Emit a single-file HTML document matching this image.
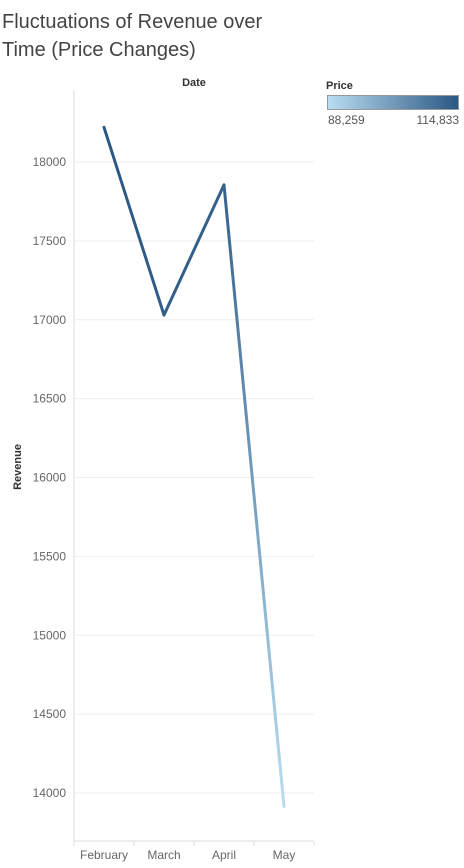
<!DOCTYPE html>
<html><head><meta charset="utf-8"><style>
body{margin:0;background:#fff;font-family:"Liberation Sans",sans-serif;}
</style></head><body>
<svg width="464" height="863" id="chart" style="font-family:'Liberation Sans',sans-serif">
<text x="2" y="28" font-size="20" fill="#444">Fluctuations of Revenue over</text>
<text x="2" y="56" font-size="20" fill="#444">Time (Price Changes)</text>
<text x="194" y="86" font-size="11" font-weight="bold" fill="#333" text-anchor="middle">Date</text>
<text transform="translate(21,467) rotate(-90)" font-size="11" font-weight="bold" fill="#333" text-anchor="middle">Revenue</text>
<text x="326" y="89" font-size="11" font-weight="bold" fill="#333">Price</text>
<defs>
<linearGradient id="lg" x1="0" x2="1"><stop offset="0" stop-color="#b9ddf1"/><stop offset="1" stop-color="#2a5783"/></linearGradient>
</defs>
<rect x="327.5" y="95.5" width="131" height="14" fill="url(#lg)" stroke="#999"/>
<text x="328" y="124" font-size="12" fill="#555">88,259</text>
<text x="459" y="124" font-size="12" fill="#555" text-anchor="end">114,833</text>
<g id="plot"></g>
</svg>
<script>
const categories=["February","March","April","May"];
const revenue=[18220,17030,17855,13915];
const price=[114833,113500,112800,88259];
const yTicks=[14000,14500,15000,15500,16000,16500,17000,17500,18000];
const priceMin=88259, priceMax=114833;
const NS="http://www.w3.org/2000/svg";
const g=document.getElementById('plot');
const defs=document.querySelector('defs');
const L=74,R=314,T=90,B=841;
function y(v){return 793-(v-14000)*(793-162)/4000;}
function x(i){return L+(R-L)/categories.length*(i+0.5);}
function col(p){const t=(p-priceMin)/(priceMax-priceMin);
 const a=[185,221,241],b=[42,87,131];
 return 'rgb('+a.map((c,k)=>Math.round(c+(b[k]-c)*t)).join(',')+')';}
function el(t,attrs){const e=document.createElementNS(NS,t);for(const k in attrs)e.setAttribute(k,attrs[k]);g.appendChild(e);return e;}
yTicks.forEach(v=>{
 const ln=el('line',{x1:L,x2:R,y1:y(v),y2:y(v),stroke:'#eee'});
 
 
 const t=el('text',{x:L-8,y:y(v)+4,'font-size':12,fill:'#666','text-anchor':'end'});
 t.textContent=v;
 
 
});
const ax=el('line',{x1:L,x2:L,y1:T,y2:B,stroke:'#ddd'});


const bx=el('line',{x1:L,x2:R,y1:B,y2:B,stroke:'#ddd'});


for(let i=0;i<=categories.length;i++){
 const tk=el('line',{x1:L+(R-L)/categories.length*i,x2:L+(R-L)/categories.length*i,y1:B,y2:B+5,stroke:'#ddd'});
 
 
}
categories.forEach((c,i)=>{
 const t=el('text',{x:x(i),y:B+18,'font-size':12,fill:'#666','text-anchor':'middle'});
 t.textContent=c;
 
 
});
for(let i=0;i<revenue.length-1;i++){
 const gr=document.createElementNS(NS,'linearGradient');
 gr.setAttribute('id','sg'+i);gr.setAttribute('gradientUnits','userSpaceOnUse');
 gr.setAttribute('x1',x(i));gr.setAttribute('y1',y(revenue[i]));
 gr.setAttribute('x2',x(i+1));gr.setAttribute('y2',y(revenue[i+1]));
 const s1=document.createElementNS(NS,'stop');s1.setAttribute('offset','0');s1.setAttribute('stop-color',col(price[i]));
 const s2=document.createElementNS(NS,'stop');s2.setAttribute('offset','1');s2.setAttribute('stop-color',col(price[i+1]));
 gr.appendChild(s1);gr.appendChild(s2);defs.appendChild(gr);
 const seg=el('line',{x1:x(i),y1:y(revenue[i]),x2:x(i+1),y2:y(revenue[i+1]),stroke:'url(#sg'+i+')','stroke-width':3,'stroke-linecap':'round'});
 
 
}
</script>
</body></html>
